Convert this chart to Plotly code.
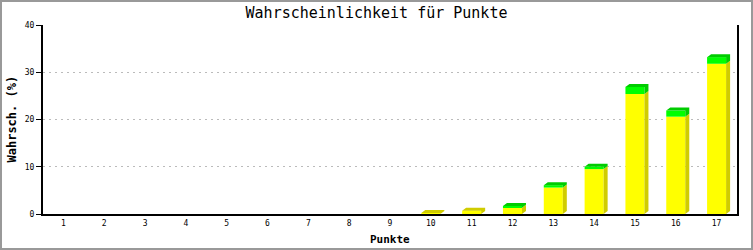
import plotly.graph_objects as go

punkte = list(range(1, 18))
tick_labels = [str(p) for p in punkte]
gelb = [0, 0, 0, 0, 0, 0, 0, 0, 0, 0.2, 0.7, 1.3, 5.6, 9.5, 25.4, 20.6, 31.8]
gruen = [0, 0, 0, 0, 0, 0, 0, 0, 0, 0, 0, 0.4, 0.5, 0.5, 1.5, 1.3, 1.4]

W, H = 753, 250
ML, MR, MT, MB = 43, 16, 25, 36
PW, PH = W - ML - MR, H - MT - MB
YMAX = 40
bar_w = 0.466
dx = 4 / (PW / 17)
dy = 3 / (PH / YMAX)

fig = go.Figure()

# front faces
fig.add_trace(go.Bar(x=punkte, y=gelb, width=bar_w, marker=dict(color="#ffff00", line=dict(width=0)),
                     showlegend=False, hoverinfo="skip"))
fig.add_trace(go.Bar(x=punkte, y=gruen, base=gelb, width=bar_w,
                     marker=dict(color="#00ff00", line=dict(width=0)), showlegend=False, hoverinfo="skip"))

# 3D side / top faces
def poly(pts_list):
    xs, ys = [], []
    for pts in pts_list:
        for (a, b) in pts:
            xs.append(a); ys.append(b)
        xs.append(pts[0][0]); ys.append(pts[0][1])
        xs.append(None); ys.append(None)
    return xs, ys

y_faces, g_faces = [], []
for c, yv, gv in zip(punkte, gelb, gruen):
    if yv + gv <= 0:
        continue
    xl, xr = c - bar_w / 2, c + bar_w / 2
    if yv > 0:
        y_faces.append([(xr, 0), (xr + dx, dy), (xr + dx, yv + dy), (xr, yv)])
        if gv <= 0:
            y_faces.append([(xl, yv), (xl + dx, yv + dy), (xr + dx, yv + dy), (xr, yv)])
    if gv > 0:
        t = yv + gv
        g_faces.append([(xr, yv), (xr + dx, yv + dy), (xr + dx, t + dy), (xr, t)])
        g_faces.append([(xl, t), (xl + dx, t + dy), (xr + dx, t + dy), (xr, t)])

for faces, col in ((y_faces, "#d0cc00"), (g_faces, "#00cc00")):
    xs, ys = poly(faces)
    fig.add_trace(go.Scatter(x=xs, y=ys, mode="lines", fill="toself", fillcolor=col,
                             line=dict(width=0, color=col), showlegend=False, hoverinfo="skip"))

mono = "DejaVu Sans Mono"
fig.update_layout(
    width=W, height=H,
    margin=dict(l=ML, r=MR, t=MT, b=MB),
    paper_bgcolor="white", plot_bgcolor="white",
    barmode="overlay",
    title=dict(text="Wahrscheinlichkeit für Punkte", x=0.5, xref="container", xanchor="center",
               y=1 - 13 / H, yref="container", yanchor="middle",
               font=dict(family=mono, size=15, color="black")),
    xaxis=dict(range=[0.5, 17.5], tickmode="array", tickvals=punkte, ticktext=tick_labels,
               showgrid=False, zeroline=False, showline=True, linecolor="black", linewidth=2,
               ticks="", tickfont=dict(family=mono, size=8, color="black"), fixedrange=True),
    yaxis=dict(range=[0, YMAX], tickvals=[0, 10, 20, 30, 40], showgrid=True, gridcolor="#bbbbbb",
               griddash="2px,4px", gridwidth=1, zeroline=False, showline=True, mirror=True,
               linecolor="black", linewidth=2, ticks="outside", ticklen=5, tickcolor="black",
               tickfont=dict(family=mono, size=8, color="black"), fixedrange=True),
    annotations=[
        dict(text="<b>Wahrsch. (%)</b>", xref="paper", yref="paper", x=0, y=0.5, xshift=-32,
             xanchor="center", yanchor="middle", textangle=-90, showarrow=False,
             font=dict(family=mono, size=12, color="black")),
        dict(text="<b>Punkte</b>", xref="paper", yref="paper", x=0.5, y=0, yshift=-25,
             xanchor="center", yanchor="middle", showarrow=False,
             font=dict(family=mono, size=11, color="black")),
    ],
    shapes=[dict(type="rect", xref="paper", yref="paper",
                 x0=-(ML - 1) / PW, x1=1 + (MR - 1) / PW, y0=-(MB - 1) / PH, y1=1 + (MT - 1) / PH,
                 line=dict(color="#999999", width=2), layer="below")],
)

fig.write_html("out.html")
